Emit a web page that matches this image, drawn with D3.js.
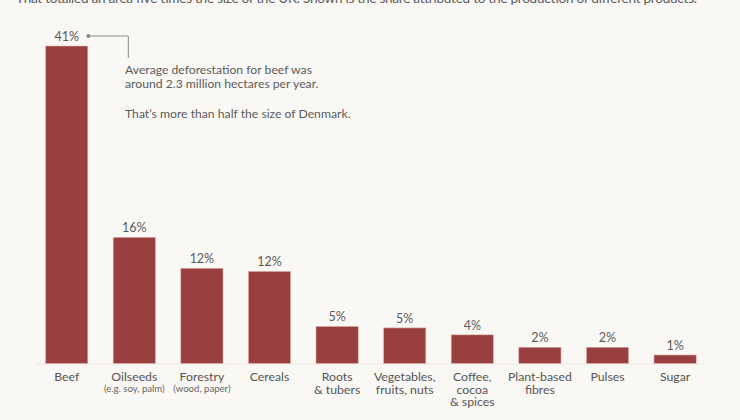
<!DOCTYPE html>
<html>
<head>
<meta charset="utf-8">
<script src="https://cdn.jsdelivr.net/npm/d3@7"></script>
<style>
  html, body { margin: 0; padding: 0; background: #faf8f4; }
  svg { display: block; font-family: Lato, "Noto Sans", sans-serif; }
  .value-label { fill: #5b5b5b; font-size: 12.5px; text-anchor: middle; }
  .cat-label { fill: #555; font-size: 12.3px; text-anchor: middle; }
  .cat-sub { fill: #666; font-size: 9.6px; text-anchor: middle; }
  .note { fill: #5b5b5b; font-size: 12.2px; }
</style>
</head>
<body>
<svg id="chart" width="740" height="420"></svg>
<script>
  // share of deforestation by product (%)
  var categories = ['Beef', 'Oilseeds', 'Forestry', 'Cereals', 'Roots & tubers',
    'Vegetables, fruits, nuts', 'Coffee, cocoa & spices', 'Plant-based fibres', 'Pulses', 'Sugar'];
  var shares = [41, 16.3, 12.3, 11.9, 4.8, 4.6, 3.7, 2.1, 2.1, 1.1];
  var valueLabels = ['41%', '16%', '12%', '12%', '5%', '5%', '4%', '2%', '2%', '1%'];
  var labelLines = [
    ['Beef'], ['Oilseeds'], ['Forestry'], ['Cereals'], ['Roots', '& tubers'],
    ['Vegetables,', 'fruits, nuts'], ['Coffee,', 'cocoa', '& spices'],
    ['Plant-based', 'fibres'], ['Pulses'], ['Sugar']
  ];
  var subLabels = ['', '(e.g. soy, palm)', '(wood, paper)', '', '', '', '', '', '', ''];
  var subtitle = 'That totalled an area five times the size of the UK. Shown is the share attributed to the production of different products.';
  var noteLines = ['Average deforestation for beef was', 'around 2.3 million hectares per year.', 'That\u2019s more than half the size of Denmark.'];

  var svg = d3.select('#chart');
  var baseY = 363.5;

  var x = d3.scaleBand()
    .domain(categories)
    .range([32.9, 708.9])
    .paddingInner(0.375)
    .paddingOuter(0.1875);

  var y = d3.scaleLinear()
    .domain([0, 41])
    .range([baseY, 46]);

  // subtitle, cut off at top of frame
  svg.append('text')
    .attr('x', 16)
    .attr('y', 3)
    .attr('fill', '#5b5b5b')
    .attr('font-size', '13.6px')
    .attr('textLength', 681)
    .text(subtitle);

  // faint baseline
  svg.append('line')
    .attr('x1', 37).attr('x2', 705)
    .attr('y1', baseY + 0.5).attr('y2', baseY + 0.5)
    .attr('stroke', '#ece8e1')
    .attr('stroke-width', 1);

  var bars = svg.append('g').attr('class', 'bars');

  bars.selectAll('rect')
    .data(categories)
    .enter().append('rect')
    .attr('x', function(d) { return x(d); })
    .attr('width', x.bandwidth())
    .attr('y', function(d, i) { return y(shares[i]); })
    .attr('height', function(d, i) { return baseY - y(shares[i]); })
    .attr('fill', '#993f3f')
    .attr('stroke', '#e2b9b5')
    .attr('stroke-width', 0.6);

  svg.append('g').selectAll('text')
    .data(categories)
    .enter().append('text')
    .attr('class', 'value-label')
    .attr('x', function(d) { return x(d) + x.bandwidth() / 2; })
    .attr('y', function(d, i) { return y(shares[i]) - 5; })
    .text(function(d, i) { return valueLabels[i]; });

  // category labels, one text per line
  var cats = svg.append('g');
  categories.forEach(function(d, i) {
    labelLines[i].forEach(function(line, j) {
      cats.append('text')
        .attr('class', 'cat-label')
        .attr('font-size', d === 'Sugar' ? '10.8px' : null)
        .attr('x', x(d) + x.bandwidth() / 2)
        .attr('y', 381 + j * 12.6)
        .text(line);
    });
  });

  svg.append('g').selectAll('text')
    .data(categories.filter(function(d, i) { return subLabels[i]; }))
    .enter().append('text')
    .attr('class', 'cat-sub')
    .attr('x', function(d) { return x(d) + x.bandwidth() / 2; })
    .attr('y', 392)
    .text(function(d) { return subLabels[categories.indexOf(d)]; });

  // annotation for beef
  var beefTop = y(shares[0]);
  var lx = x('Beef') + x.bandwidth() + 0.5;
  var ly = beefTop - 10;
  svg.append('path')
    .attr('d', 'M' + lx + ',' + ly + 'H' + (lx + 40) + 'V' + (ly + 22))
    .attr('fill', 'none')
    .attr('stroke', '#8a8a8a')
    .attr('stroke-width', 1);
  svg.append('circle')
    .attr('cx', lx).attr('cy', ly)
    .attr('r', 2)
    .attr('fill', '#8a8a8a');

  var noteY = [74.3, 88.3, 118.3];
  svg.append('g').selectAll('text')
    .data(noteLines)
    .enter().append('text')
    .attr('class', 'note')
    .attr('x', 125)
    .attr('y', function(d, i) { return noteY[i]; })
    .text(function(d) { return d; });
</script>
</body>
</html>
